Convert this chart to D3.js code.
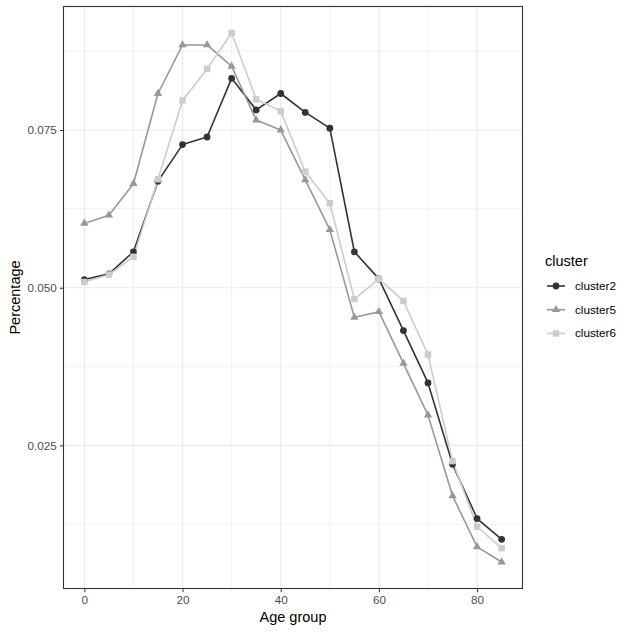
<!doctype html>
<html lang='en'>
  <head>
    <meta charset="utf-8">
    <script src="https://d3js.org/d3.v7.min.js"></script>
    <title>Age group percentage by cluster</title>
  <style>
  body {
    margin: 0;
    background-color: white;
  }
  text {
    font-family: "Liberation Sans", Arial, sans-serif;
  }
  .tick text {
    fill: #4d4d4d;
    font-size: 11.7px;
  }
  .tick line {
    stroke: #333333;
  }
  .domain {
    display: none;
  }
  </style>
  </head>
  <body>
    <div id='chart'></div>
    <script>
    // data
    const ages = [0, 5, 10, 15, 20, 25, 30, 35, 40, 45, 50, 55, 60, 65, 70, 75, 80, 85];
    const cluster2 = [0.0513, 0.0522, 0.0557, 0.0669, 0.0727, 0.0739, 0.0832, 0.0782, 0.0808, 0.0778, 0.0753,
                      0.0557, 0.0514, 0.0432, 0.0349, 0.0220, 0.0134, 0.0101];
    const cluster5 = [0.0602, 0.0615, 0.0665, 0.0808, 0.0885, 0.0885, 0.0851, 0.0766, 0.0750, 0.0671, 0.0592,
                      0.0453, 0.0462, 0.0380, 0.0298, 0.0170, 0.0089, 0.0065];
    const cluster6 = [0.0509, 0.0521, 0.0549, 0.0672, 0.0797, 0.0847, 0.0904, 0.0799, 0.0780, 0.0684, 0.0634,
                      0.0482, 0.0514, 0.0479, 0.0394, 0.0225, 0.0121, 0.0087];
    const clusterNames = ['cluster2', 'cluster5', 'cluster6'];
    const xTicks = [0, 20, 40, 60, 80];
    const yTicks = [0.025, 0.050, 0.075];

    const series = [cluster2, cluster5, cluster6];
    const colors = ['#333333', '#989898', '#cccccc'];
    const shapes = [d3.symbolCircle, d3.symbolTriangle, d3.symbolSquare];
    const shapeSize = [36, 30, 42];

    const width = 634, height = 633;
    const pLeft = 63.5, pRight = 522.5, pTop = 6.5, pBottom = 588.5;

    const svg = d3.select('#chart')
                  .append('svg')
                  .attr('width', width)
                  .attr('height', height);

    // ggplot style 5% expansion
    const xMin = d3.min(ages), xMax = d3.max(ages);
    const allVals = [].concat(cluster2, cluster5, cluster6);
    const yMin = d3.min(allVals), yMax = d3.max(allVals);
    const xPad = (xMax - xMin) * 0.05, yPad = (yMax - yMin) * 0.05;

    const xScale = d3.scaleLinear()
                     .domain([xMin - xPad, xMax + xPad])
                     .range([pLeft, pRight]);
    const yScale = d3.scaleLinear()
                     .domain([yMin - yPad, yMax + yPad])
                     .range([pBottom, pTop]);

    // grid
    const grid = svg.append('g');
    const xMinor = [10, 30, 50, 70];
    const yMinor = [0.0125, 0.0375, 0.0625, 0.0875];
    grid.selectAll('.xminor').data(xMinor).enter().append('line')
        .attr('x1', d => xScale(d)).attr('x2', d => xScale(d))
        .attr('y1', pTop).attr('y2', pBottom)
        .attr('stroke', '#ebebeb').attr('stroke-width', 0.7);
    grid.selectAll('.yminor').data(yMinor).enter().append('line')
        .attr('y1', d => yScale(d)).attr('y2', d => yScale(d))
        .attr('x1', pLeft).attr('x2', pRight)
        .attr('stroke', '#ebebeb').attr('stroke-width', 0.7);
    grid.selectAll('.xmajor').data(xTicks).enter().append('line')
        .attr('x1', d => xScale(d)).attr('x2', d => xScale(d))
        .attr('y1', pTop).attr('y2', pBottom)
        .attr('stroke', '#ebebeb').attr('stroke-width', 1.1);
    grid.selectAll('.ymajor').data(yTicks).enter().append('line')
        .attr('y1', d => yScale(d)).attr('y2', d => yScale(d))
        .attr('x1', pLeft).attr('x2', pRight)
        .attr('stroke', '#ebebeb').attr('stroke-width', 1.1);

    // lines
    const line = d3.line()
                   .x((d, i) => xScale(ages[i]))
                   .y(d => yScale(d));
    series.forEach((s, k) => {
      svg.append('path')
         .datum(s)
         .attr('fill', 'none')
         .attr('stroke', colors[k])
         .attr('stroke-width', 1.6)
         .attr('stroke-linejoin', 'round')
         .attr('d', line);
    });

    // points
    series.forEach((s, k) => {
      svg.append('g').selectAll('path')
         .data(s)
         .enter()
         .append('path')
         .attr('transform', (d, i) => 'translate(' + xScale(ages[i]) + ',' + yScale(d) + ')')
         .attr('d', d3.symbol().type(shapes[k]).size(shapeSize[k]))
         .attr('fill', colors[k]);
    });

    // panel border
    svg.append('rect')
       .attr('x', pLeft).attr('y', pTop)
       .attr('width', pRight - pLeft).attr('height', pBottom - pTop)
       .attr('fill', 'none')
       .attr('stroke', '#333333')
       .attr('stroke-width', 1.1);

    const xAxis = d3.axisBottom(xScale).tickValues(xTicks).tickSize(3.7).tickPadding(3);
    const yAxis = d3.axisLeft(yScale).tickValues(yTicks).tickSize(3.7).tickPadding(3)
                    .tickFormat(d3.format('.3f'));

    svg.append('g')
       .attr('transform', 'translate(0,' + pBottom + ')')
       .call(xAxis);
    svg.append('g')
       .attr('transform', 'translate(' + pLeft + ',0)')
       .call(yAxis);

    // axis titles
    svg.append('text')
       .attr('x', (pLeft + pRight) / 2)
       .attr('y', 622)
       .attr('text-anchor', 'middle')
       .attr('font-size', 14.5)
       .text('Age group');
    svg.append('text')
       .attr('transform', 'translate(20,' + (pTop + pBottom) / 2 + ') rotate(-90)')
       .attr('text-anchor', 'middle')
       .attr('font-size', 14.5)
       .text('Percentage');

    // legend
    const legend = svg.append('g');
    legend.append('text')
          .attr('x', 545).attr('y', 266)
          .attr('font-size', 14.5)
          .text('cluster');
    clusterNames.forEach((name, k) => {
      const ly = 286 + k * 23.7;
      legend.append('line')
            .attr('x1', 547).attr('x2', 565)
            .attr('y1', ly).attr('y2', ly)
            .attr('stroke', colors[k]).attr('stroke-width', 1.6);
      legend.append('path')
            .attr('transform', 'translate(556,' + ly + ')')
            .attr('d', d3.symbol().type(shapes[k]).size(shapeSize[k]))
            .attr('fill', colors[k]);
      legend.append('text')
            .attr('x', 575).attr('y', ly + 4)
            .attr('font-size', 11.7)
            .text(name);
    });
    </script>
  </body>
</html>
